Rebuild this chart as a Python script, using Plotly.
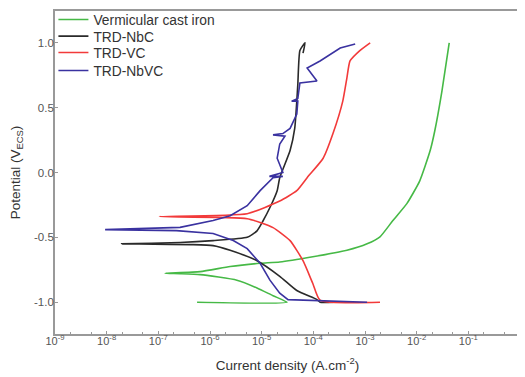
import numpy as np
import plotly.graph_objects as go

# log10(current density) and potential (V)
green_logi = [-6.25, -4.51, -4.78, -5.09, -5.48, -6.19, -6.58, -6.87,
              -6.19, -5.61, -5.03, -4.65, -4.01, -3.35, -2.96, -2.71, -2.46,
              -2.19, -1.94, -1.74, -1.65, -1.51, -1.37]
green_e = [-1.0, -1.0, -0.95, -0.89, -0.83, -0.787, -0.78, -0.777,
           -0.764, -0.725, -0.70, -0.69, -0.65, -0.60, -0.55, -0.496, -0.37,
           -0.24, -0.064, 0.167, 0.32, 0.63, 1.0]

nbc_logi = [-3.6, -3.87, -3.93, -4.32, -4.65, -5.09, -5.61, -5.94, -6.33, -7.71,
            -6.58, -5.94, -5.28, -5.09, -4.97, -4.84, -4.70, -4.65, -4.45,
            -4.36, -4.32, -4.30, -4.26, -4.16, -4.20]
nbc_e = [-1.0, -1.0, -0.98, -0.91, -0.80, -0.68, -0.60, -0.564, -0.556, -0.55,
         -0.54, -0.525, -0.50, -0.45, -0.37, -0.27, -0.14, -0.04, 0.17,
         0.34, 0.55, 0.68, 0.94, 1.0, 0.92]

vc_logi = [-2.71, -3.87, -4.01, -4.20, -4.45, -4.78, -5.28, -6.98,
           -5.28, -4.65, -4.32, -4.12, -3.81, -3.62, -3.43, -3.35, -3.29,
           -3.10, -2.90]
vc_e = [-1.0, -0.985, -0.856, -0.68, -0.525, -0.425, -0.356, -0.34,
        -0.318, -0.22, -0.14, -0.04, 0.11, 0.30, 0.55, 0.73, 0.86,
        0.94, 1.0]

nbvc_logi = [-2.96, -4.49, -4.65, -4.84, -5.03, -5.28, -5.55, -5.94, -6.65, -8.03,
             -6.58, -5.94, -5.61, -5.28, -5.03, -4.78, -4.59, -4.85, -4.59,
             -4.70, -4.65, -4.55, -4.78, -4.59, -4.45, -4.32, -4.30, -4.42,
             -4.30, -4.26, -3.93, -4.12, -3.87, -3.68, -3.48, -3.19]
nbvc_e = [-1.0, -0.98, -0.93, -0.83, -0.70, -0.587, -0.525, -0.47, -0.448, -0.44,
          -0.423, -0.37, -0.333, -0.256, -0.14, -0.04, -0.03, -0.03, 0.0,
          0.11, 0.22, 0.28, 0.29, 0.30, 0.34, 0.45, 0.55, 0.55,
          0.57, 0.69, 0.705, 0.805, 0.86, 0.91, 0.96, 0.99]

names = ["Vermicular cast iron", "TRD-NbC", "TRD-VC", "TRD-NbVC"]
colors = ["#46b946", "#2a2a2a", "#f23a3a", "#3a32a0"]
shapes = ["spline", "spline", "spline", "linear"]
series = [(green_logi, green_e), (nbc_logi, nbc_e), (vc_logi, vc_e), (nbvc_logi, nbvc_e)]

tick_exp = [-9, -8, -7, -6, -5, -4, -3, -2, -1, 0]
tick_text = ["10<sup>%d</sup>" % e for e in tick_exp]
y_ticks = [-1.0, -0.5, 0.0, 0.5, 1.0]

legend_ids = ["legend", "legend2", "legend3", "legend4"]
legend_y = [0.9735, 0.9221, 0.8715, 0.8158]

fig = go.Figure()
for (li, e), n, c, s, lg in zip(series, names, colors, shapes, legend_ids):
    fig.add_trace(go.Scatter(x=10 ** np.array(li), y=e, mode="lines", name=n, legend=lg,
                             line=dict(color=c, width=1.6, shape=s, smoothing=0.5)))

legend_style = dict(x=-0.0034, xanchor="left", yanchor="middle",
                    bgcolor="rgba(0,0,0,0)", font=dict(size=13.8, color="#333"),
                    itemwidth=30)
layout_legends = {lg: dict(legend_style, y=ly) for lg, ly in zip(legend_ids, legend_y)}

# page body has an 8px margin: size the figure so the plot lands where the reference has it
fig.update_layout(
    width=517, height=369,
    margin=dict(l=47, r=5, t=3, b=43, autoexpand=False),
    paper_bgcolor="white", plot_bgcolor="white",
    font=dict(family="Liberation Sans, Arial, sans-serif", color="#444", size=11),
    showlegend=True,
    **layout_legends,
)
fig.update_xaxes(type="log", range=[-9, 0], tickvals=[10.0 ** e for e in tick_exp],
                 ticktext=tick_text, showline=True, linecolor="#999", linewidth=1.8,
                 mirror=True, ticks="inside", ticklen=3, tickcolor="#999",
                 showgrid=False, zeroline=False, automargin=False,
                 ticklabelstandoff=-4,
                 minor=dict(ticks="inside", ticklen=2, tickcolor="#999"),
                 tickfont=dict(size=11, color="#555"),
                 title=dict(text="Current density (A.cm<sup>-2</sup>)", font=dict(size=13.5, color="#333"),
                            standoff=14))
fig.update_yaxes(range=[-1.245, 1.245], tickvals=y_ticks,
                 ticktext=["%.1f" % v for v in y_ticks],
                 showline=True, linecolor="#999", linewidth=1.8, mirror=True,
                 ticks="inside", ticklen=3, tickcolor="#999",
                 showgrid=False, zeroline=False, automargin=False,
                 ticklabelstandoff=-3,
                 tickfont=dict(size=11.5, color="#555"),
                 title=dict(text="Potential (V<sub>ECS</sub>)", font=dict(size=13.5, color="#333"),
                            standoff=10))

fig.write_html("out.html")
